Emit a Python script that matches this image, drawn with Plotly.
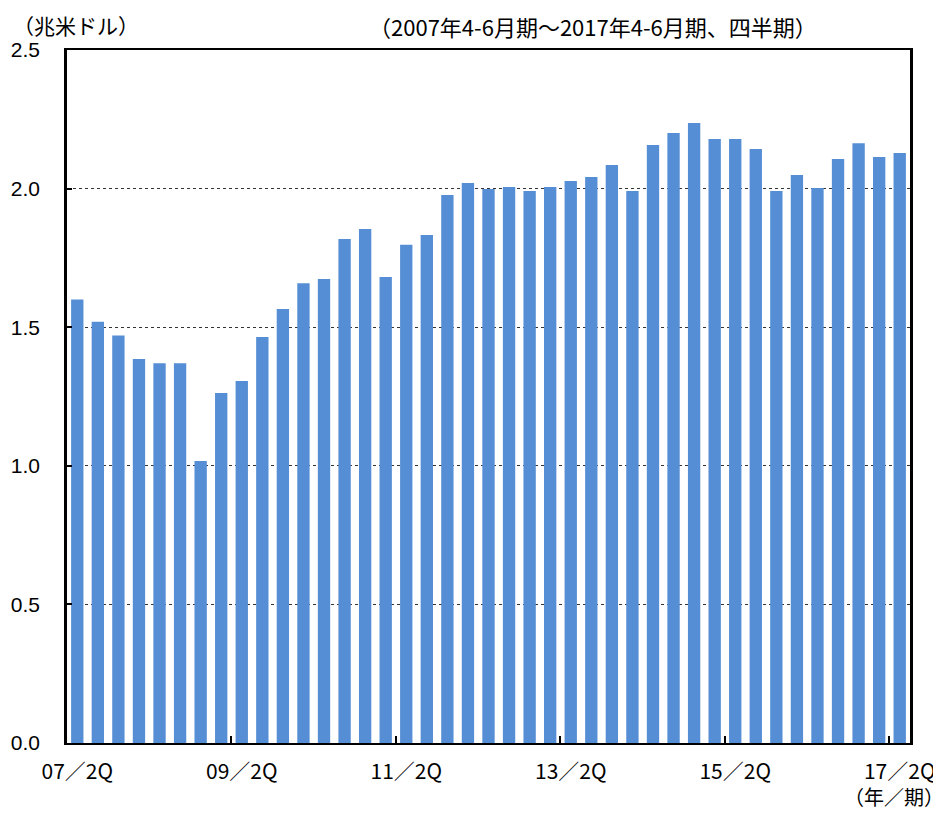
import plotly.graph_objects as go

# Quarterly categories 2007Q2 .. 2017Q2
years = list(range(2007, 2018))
categories = []
for y in years:
    for q in (1, 2, 3, 4):
        if (y == 2007 and q < 2) or (y == 2017 and q > 2):
            continue
        categories.append(f"{y % 100:02d}/{q}Q")

values = [1.60, 1.52, 1.47, 1.385, 1.37, 1.37, 1.017, 1.263, 1.306, 1.465,
          1.566, 1.659, 1.674, 1.818, 1.854, 1.681, 1.797, 1.833, 1.977, 2.020,
          1.999, 2.006, 1.991, 2.006, 2.027, 2.042, 2.085, 1.991, 2.157, 2.201,
          2.237, 2.179, 2.179, 2.143, 1.991, 2.049, 2.002, 2.107, 2.164, 2.114,
          2.128]

tick_cats = ["07/2Q", "09/2Q", "11/2Q", "13/2Q", "15/2Q", "17/2Q"]
tick_text = ["07／2Q", "09／2Q", "11／2Q", "13／2Q", "15／2Q", "17／2Q"]

y_unit = "（兆米ドル）"
title_text = "（2007年4-6月期～2017年4-6月期、四半期）"
x_unit = "（年／期）"

JP = "Noto Sans CJK JP"
BAR_COLOR = "#558ed5"

fig = go.Figure()
fig.add_trace(go.Bar(
    x=categories, y=values,
    marker=dict(color=BAR_COLOR, line=dict(width=0)),
    width=0.6,
    hoverinfo="x+y",
))

# page body has an 8px margin, so the figure is 8px smaller than the window
fig.update_layout(
    width=933, height=807,
    margin=dict(l=59, r=31, t=42, b=72),
    paper_bgcolor="white", plot_bgcolor="white",
    showlegend=False,
    bargap=0.4,
    xaxis=dict(
        type="category", automargin=False,
        range=[-0.5, len(categories) - 0.5],
        tickmode="array", tickvals=tick_cats, ticktext=tick_text,
        tickson="boundaries", tickangle=0,
        ticks="inside", ticklen=7, tickwidth=1.5, tickcolor="black",
        showline=True, linecolor="black", linewidth=2, mirror=True,
        showgrid=False,
        tickfont=dict(family=JP, size=21, color="black"),
        ticklabelstandoff=9,
    ),
    yaxis=dict(
        automargin=False,
        range=[0, 2.5], tick0=0, dtick=0.5, tickformat=".1f",
        ticks="inside", ticklen=5, tickwidth=2, tickcolor="black",
        showline=True, linecolor="black", linewidth=2.5, mirror=True,
        showgrid=True, gridcolor="#333333", gridwidth=1.3, griddash="dot",
        zeroline=False,
        tickfont=dict(family="Liberation Sans, Arial", size=21, color="black"),
        ticklabelstandoff=20,
    ),
    annotations=[
        dict(text=y_unit, xref="paper", yref="paper", x=-0.065, y=1.059,
             xanchor="left", yanchor="top", showarrow=False, borderpad=0,
             font=dict(family=JP, size=21, color="black")),
        dict(text=title_text, xref="paper", yref="paper", x=0.624, y=1.059,
             xanchor="center", yanchor="top", showarrow=False, borderpad=0,
             font=dict(family=JP, size=22, color="black")),
        dict(text=x_unit, xref="paper", yref="paper", x=0.981, y=-0.0996,
             xanchor="center", yanchor="bottom", showarrow=False, borderpad=0,
             font=dict(family=JP, size=20, color="black")),
    ],
)

fig.write_html("out.html")
